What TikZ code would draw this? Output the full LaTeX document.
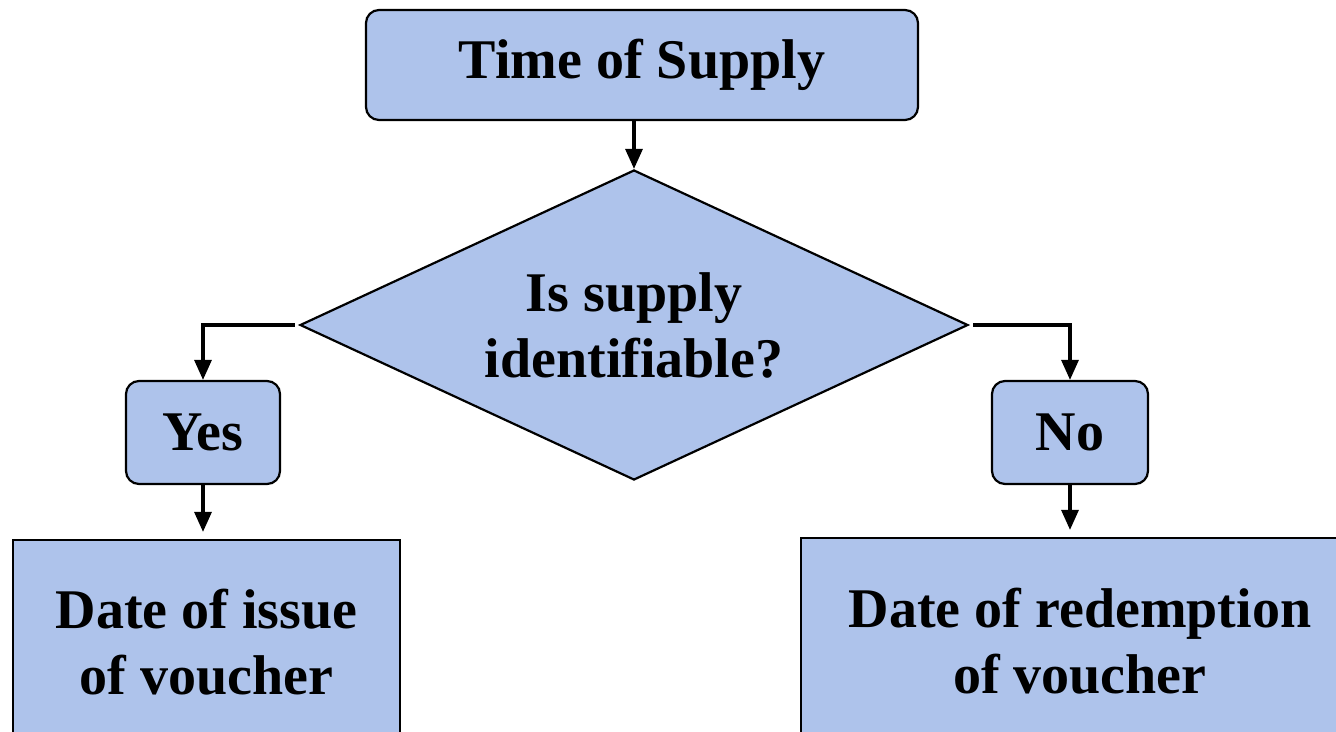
\documentclass[tikz,border=0pt]{standalone}
\usepackage{fontspec}
\setmainfont{Liberation Serif}
\usetikzlibrary{shapes.geometric,arrows.meta}
\definecolor{boxfill}{HTML}{AEC3EB}
\tikzset{
  box/.style={draw=black, line width=2.2pt, fill=boxfill, inner sep=0pt, align=center,
    font=\fontsize{56}{66}\selectfont\bfseries},
  rbox/.style={box, rounded corners=13pt},
  conn/.style={line width=3.2pt, -{Triangle[width=17pt,length=20pt]}},
}
\begin{document}
\begin{tikzpicture}[x=1pt,y=-1pt]
\useasboundingbox (0,0) rectangle (1336,731);
\node[rbox, minimum width=552pt, minimum height=110pt] (top) at (642,65) {Time of Supply};
\node[box, diamond, aspect=2.155, minimum width=668pt, minimum height=310pt] (dia) at (634,325) {Is supply\\identifiable?};
\node[rbox, minimum width=154pt, minimum height=103pt] (yes) at (203,432.5) {Yes};
\node[rbox, minimum width=156pt, minimum height=103pt] (no) at (1070,432.5) {No};
\node[box, minimum width=387pt, minimum height=205pt] (issue) at (206.5,642.5) {Date of issue\\of voucher};
\node[box, minimum width=558pt, minimum height=207pt] (redeem) at (1080,641.5) {Date of redemption\\of voucher};
\draw[conn] (top.south -| dia.north) -- (dia.north);
\draw[conn, shorten <=4pt] (dia.west) -| (yes.north);
\draw[conn, shorten <=4pt] (dia.east) -| (no.north);
\draw[conn, shorten >=7pt] (yes.south) -- (yes.south |- issue.north);
\draw[conn, shorten >=7pt] (no.south) -- (no.south |- redeem.north);
\end{tikzpicture}
\end{document}
